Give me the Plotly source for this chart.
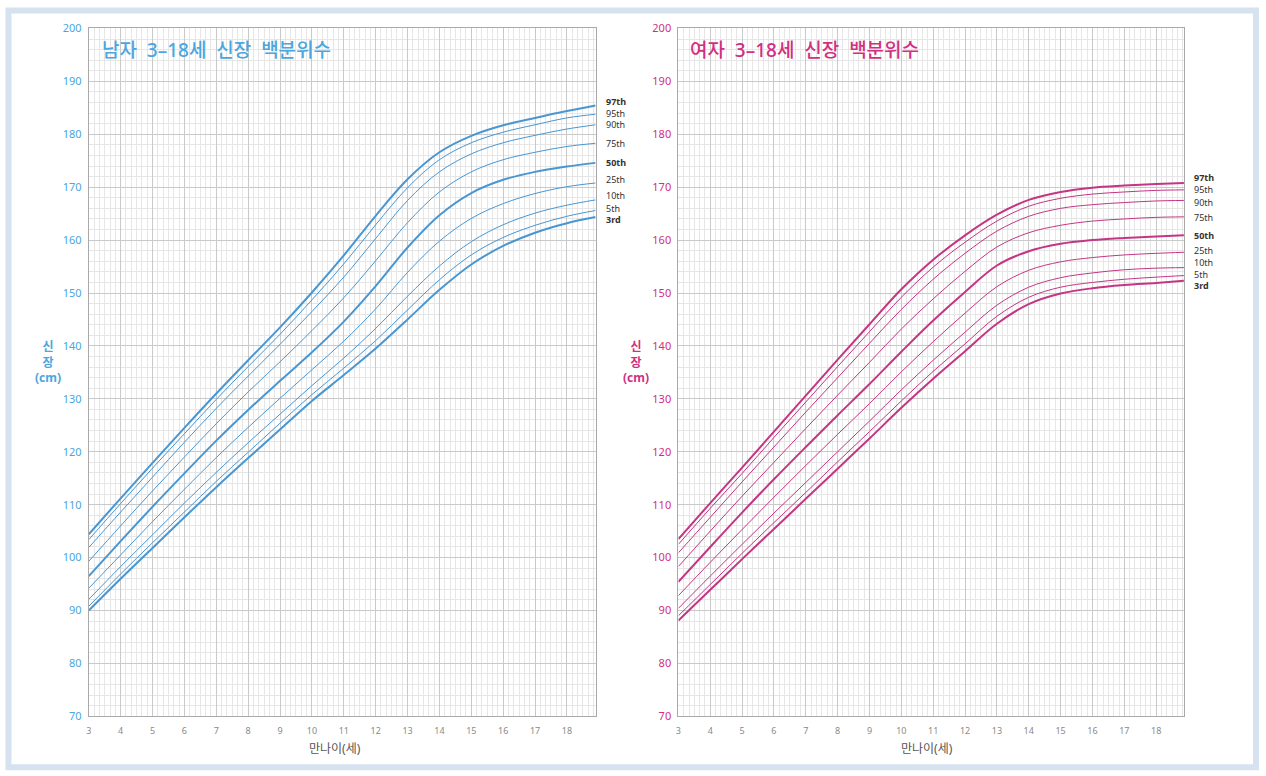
import plotly.graph_objects as go

# ages (years) used for both charts
ages_boys = [3, 4, 5, 6, 7, 8, 9, 10, 11, 12, 13, 14, 15, 16, 17, 18, 18.9]
ages_girls = [3, 4, 5, 6, 7, 8, 9, 10, 11, 12, 13, 14, 15, 16, 17, 18, 18.87]

# boys height percentiles (cm)
boys_p97 = [104.4, 111.2, 117.9, 124.5, 131.0, 137.3, 143.5, 150.1, 157.1, 164.6, 171.5, 176.6, 179.7, 181.7, 183.1, 184.4, 185.45]
boys_p95 = [103.4, 110.2, 116.9, 123.4, 129.9, 136.1, 142.2, 148.7, 155.5, 162.9, 169.9, 175.2, 178.4, 180.4, 181.8, 183.1, 183.8]
boys_p90 = [101.9, 108.6, 115.2, 121.8, 128.2, 134.3, 140.3, 146.5, 153.0, 160.3, 167.5, 172.9, 176.3, 178.4, 179.8, 181.0, 181.8]
boys_p75 = [99.3, 106.0, 112.6, 119.0, 125.3, 131.3, 137.0, 142.9, 149.1, 156.1, 163.3, 169.1, 172.9, 175.2, 176.6, 177.7, 178.3]
boys_p50 = [96.5, 103.1, 109.6, 115.9, 122.1, 127.9, 133.4, 138.8, 144.6, 151.3, 158.6, 164.7, 168.9, 171.4, 172.9, 173.9, 174.6]
boys_p25 = [94.2, 100.5, 106.8, 112.9, 118.9, 124.6, 130.1, 135.5, 140.9, 147.0, 153.9, 159.8, 164.1, 166.9, 168.8, 170.1, 170.8]
boys_p10 = [92.1, 98.3, 104.3, 110.3, 116.1, 121.7, 127.1, 132.5, 137.7, 143.3, 149.4, 155.1, 159.7, 162.9, 165.1, 166.6, 167.6]
boys_p5 = [90.8, 96.9, 102.8, 108.6, 114.4, 119.9, 125.4, 130.8, 135.8, 141.0, 146.8, 152.5, 157.2, 160.5, 162.8, 164.5, 165.6]
boys_p3 = [90.0, 96.0, 101.8, 107.6, 113.3, 118.8, 124.2, 129.6, 134.5, 139.5, 145.0, 150.6, 155.4, 158.9, 161.4, 163.2, 164.35]

# girls height percentiles (cm)
girls_p97 = [103.5, 110.3, 117.0, 123.8, 130.6, 137.4, 144.1, 150.7, 156.3, 160.9, 164.8, 167.6, 169.1, 169.9, 170.3, 170.6, 170.8]
girls_p95 = [102.5, 109.3, 115.9, 122.7, 129.4, 136.1, 142.7, 149.2, 154.9, 159.6, 163.6, 166.4, 167.9, 168.7, 169.1, 169.4, 169.5]
girls_p90 = [100.9, 107.6, 114.3, 120.9, 127.5, 134.0, 140.5, 146.9, 152.6, 157.5, 161.7, 164.5, 166.0, 166.7, 167.1, 167.4, 167.5]
girls_p75 = [98.3, 105.0, 111.6, 118.0, 124.4, 130.7, 136.9, 143.2, 148.9, 154.1, 158.7, 161.4, 162.8, 163.6, 164.0, 164.3, 164.4]
girls_p50 = [95.4, 102.0, 108.5, 114.8, 120.9, 126.9, 132.8, 138.9, 144.8, 150.2, 155.2, 157.9, 159.3, 160.0, 160.4, 160.7, 160.9]
girls_p25 = [92.8, 99.1, 105.3, 111.4, 117.4, 123.3, 129.1, 135.1, 140.8, 146.2, 151.2, 154.3, 155.9, 156.7, 157.2, 157.5, 157.7]
girls_p10 = [90.4, 96.5, 102.5, 108.4, 114.2, 120.0, 125.8, 131.7, 137.3, 142.6, 147.7, 151.1, 152.9, 153.8, 154.4, 154.7, 154.8]
girls_p5 = [89.0, 94.9, 100.8, 106.6, 112.3, 118.1, 123.8, 129.6, 135.2, 140.4, 145.6, 149.2, 151.1, 152.0, 152.6, 153.0, 153.3]
girls_p3 = [88.1, 93.9, 99.7, 105.4, 111.1, 116.8, 122.5, 128.3, 133.8, 139.0, 144.2, 147.9, 149.9, 150.9, 151.5, 151.9, 152.3]

pct_labels = ["97th", "95th", "90th", "75th", "50th", "25th", "10th", "5th", "3rd"]
x_ticks = list(range(3, 19))

boys_series = [boys_p97, boys_p95, boys_p90, boys_p75, boys_p50, boys_p25, boys_p10, boys_p5, boys_p3]
girls_series = [girls_p97, girls_p95, girls_p90, girls_p75, girls_p50, girls_p25, girls_p10, girls_p5, girls_p3]

BLUE = "#4896d2"
BLUE_TXT = "#4aa6de"
PINK = "#c43584"
PINK_TXT = "#d22f80"
BOLD = {"97th", "50th", "3rd"}
FONT = "Noto Sans, Noto Sans CJK KR, sans-serif"

# label nudges (px) so the end labels sit like the original
boys_shift = [4, 1, 0, 0, 0, 3, 4, 2, -2]
girls_shift = [5, 0, -2, -1, 0, 2, 5, 1, -5]

W, H = 1266, 776

# the page shot comes out slightly squeezed/shifted; map picture pixels -> figure pixels
def px_x(x):
    return (x - 2) / W

def px_y(y):
    return 1 - ((y - 7.5) / 0.981) / H

fig = go.Figure()

def add_chart(ages, series, color, xa, ya, shifts):
    for name, vals, ys in zip(pct_labels, series, shifts):
        w = 2.0 if name in BOLD else 1.0
        fig.add_trace(go.Scatter(x=ages, y=vals, mode="lines", name=name,
                                 line=dict(color=color, width=w, shape="spline", smoothing=1.0),
                                 xaxis=xa, yaxis=ya, showlegend=False, hoverinfo="skip"))
        lbl = "<b>%s</b>" % name if name in BOLD else name
        fig.add_annotation(x=ages[-1], y=vals[-1], xref=xa, yref=ya, text=lbl,
                           showarrow=False, xanchor="left", xshift=8, yshift=ys,
                           font=dict(size=9, color="#333333", family=FONT))

add_chart(ages_boys, boys_series, BLUE, "x", "y", boys_shift)
add_chart(ages_girls, girls_series, PINK, "x2", "y2", girls_shift)

ydom = [px_y(716), px_y(28)]

def xaxis_cfg(dom, xmax):
    return dict(domain=dom, range=[3, xmax], tickvals=x_ticks, dtick=1,
                showgrid=True, gridcolor="#c9c9c9", gridwidth=1,
                minor=dict(dtick=1 / 6, tick0=3, showgrid=True, gridcolor="#e6e6e6", gridwidth=1),
                showline=True, linecolor="#a9a9a9", linewidth=1, mirror=True,
                zeroline=False, ticks="", tickfont=dict(size=9, color="#8a8a8a", family=FONT),
                ticklabelstandoff=6)

def yaxis_cfg(anchor, tick_color):
    return dict(domain=ydom, range=[70, 200], dtick=10, anchor=anchor,
                showgrid=True, gridcolor="#c9c9c9", gridwidth=1,
                minor=dict(dtick=2, showgrid=True, gridcolor="#e6e6e6", gridwidth=1),
                showline=True, linecolor="#a9a9a9", linewidth=1, mirror=True,
                zeroline=False, ticks="", tickfont=dict(size=11, color=tick_color, family=FONT),
                ticklabelstandoff=4)

fig.update_layout(
    width=W, height=H, margin=dict(l=0, r=0, t=0, b=0),
    paper_bgcolor="white", plot_bgcolor="white",
    xaxis=xaxis_cfg([px_x(88), px_x(596)], 18.9),
    yaxis=yaxis_cfg("x", BLUE_TXT),
    xaxis2=dict(xaxis_cfg([px_x(679), px_x(1186)], 18.88), anchor="y2"),
    yaxis2=yaxis_cfg("x2", PINK_TXT),
)

NB = "\u00a0"
title_m = "남자" + NB * 2 + "3–18세" + NB * 2 + "신장" + NB * 2 + "백분위수"
title_f = "여자" + NB * 2 + "3–18세" + NB * 2 + "신장" + NB * 2 + "백분위수"

# titles and axis titles
texts = [
    (99, 50, title_m, 19, BLUE_TXT, "left", 500),
    (689, 50, title_f, 19, PINK_TXT, "left", 500),
    (47, 362, "신<br>장<br>(cm)", 12, BLUE_TXT, "center", 700),
    (637, 362, "신<br>장<br>(cm)", 12, PINK_TXT, "center", 700),
    (335, 748, "만나이(세)", 12, "#555555", "center", 400),
    (928, 748, "만나이(세)", 12, "#555555", "center", 400),
]
for px, py, t, sz, c, anc, wt in texts:
    fig.add_annotation(x=px_x(px), y=px_y(py), xref="paper", yref="paper", text=t,
                       showarrow=False, xanchor=anc, yanchor="middle",
                       font=dict(size=sz, color=c, family=FONT, weight=wt), align="center")

# light blue frame around the whole picture
fig.add_shape(type="rect", xref="paper", yref="paper",
              x0=px_x(7.5), x1=px_x(1258), y0=px_y(767), y1=px_y(10),
              line=dict(color="#d6e2f0", width=6), fillcolor="rgba(0,0,0,0)", layer="below")

fig.write_html("out.html", config={"displayModeBar": False},
               post_script="document.body.style.margin='0';document.body.style.overflow='hidden';")
